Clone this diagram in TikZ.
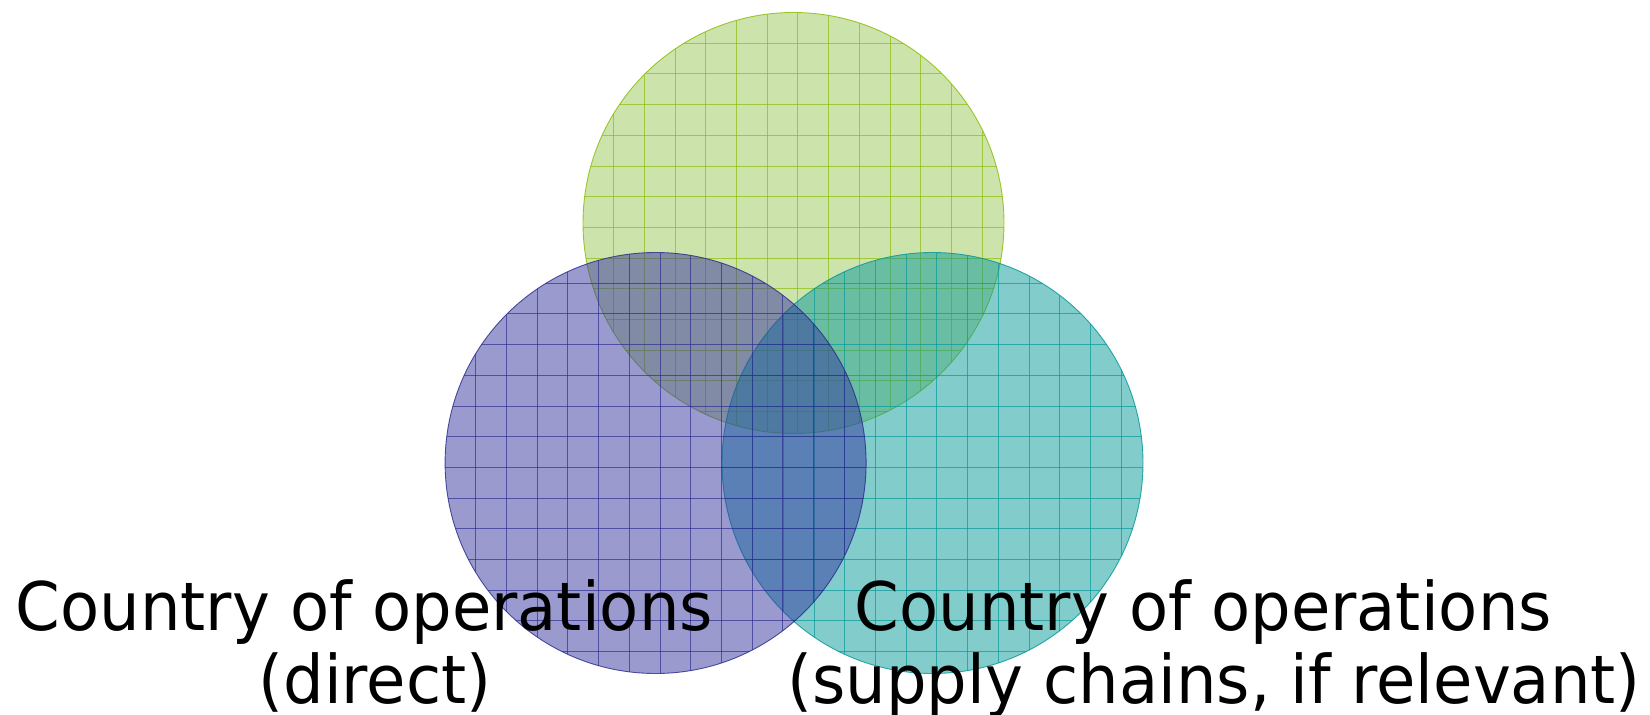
\documentclass[tikz,border=0pt]{standalone}
\usepackage{fontspec}
\setmainfont{DejaVu Sans}[FakeStretch=0.955]
\definecolor{limefill}{RGB}{155,199,89}
\definecolor{limeline}{RGB}{135,188,0}
\definecolor{navyfill}{RGB}{53,53,159}
\definecolor{navyline}{RGB}{40,40,140}
\definecolor{tealfill}{RGB}{5,153,153}
\definecolor{tealline}{RGB}{0,150,150}
\tikzset{
  % a translucent disc with a square grid, laid from its bounding box corner
  vennset/.style 2 args={
    circle, minimum size=421pt, inner sep=0pt,
    fill=#1, fill opacity=0.5,
    draw=#2, draw opacity=0.8, line width=0.9pt,
    path picture={
      \foreach \k in {1,...,13} {
        \draw[#2, draw opacity=0.65, line width=0.9pt]
          (path picture bounding box.north west) ++(\k*30.7pt,0pt) -- ++(0pt,-430pt);
        \draw[#2, draw opacity=0.65, line width=0.9pt]
          (path picture bounding box.north west) ++(0pt,-\k*30.7pt) -- ++(430pt,0pt);
      }
    }
  },
  setlabel/.style={
    text=black, align=center, anchor=base, inner sep=0pt,
    font=\fontsize{67}{73}\selectfont
  }
}
\begin{document}
\begin{tikzpicture}[x=1pt,y=-1pt]
  \useasboundingbox (0,0) rectangle (1650,715);

  % the three sets, back to front
  \node[vennset={limefill}{limeline}] (topset)   at (793.5,223) {};
  \node[vennset={tealfill}{tealline}] (rightset) at (932.5,463) {};
  \node[vennset={navyfill}{navyline}] (leftset)  at (655.6,463) {};

  % captions (anchored on the baseline of their second line)
  \node[setlabel] (directlabel) at (375,703)
    {Country of operations\hspace*{0.318em}\\(direct)};
  \node[setlabel] (supplylabel) at (1214,703)
    {Country of operations\hspace*{0.318em}\\(supply chains, if relevant)};
\end{tikzpicture}
\end{document}
